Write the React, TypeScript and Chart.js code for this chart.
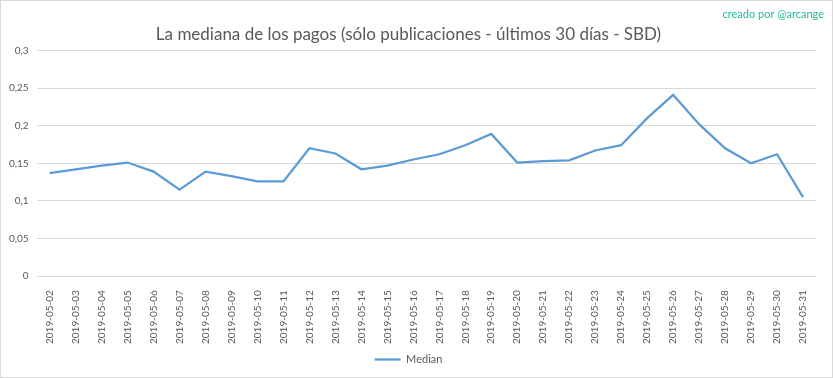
import React, { useEffect, useRef } from "react";
import { Chart, registerables } from "chart.js";

Chart.register(...registerables);

const dates: string[] = [
  "2019-05-02", "2019-05-03", "2019-05-04", "2019-05-05", "2019-05-06", "2019-05-07",
  "2019-05-08", "2019-05-09", "2019-05-10", "2019-05-11", "2019-05-12", "2019-05-13",
  "2019-05-14", "2019-05-15", "2019-05-16", "2019-05-17", "2019-05-18", "2019-05-19",
  "2019-05-20", "2019-05-21", "2019-05-22", "2019-05-23", "2019-05-24", "2019-05-25",
  "2019-05-26", "2019-05-27", "2019-05-28", "2019-05-29", "2019-05-30", "2019-05-31",
];

const medianValues: number[] = [
  0.137, 0.142, 0.147, 0.151, 0.139, 0.115,
  0.139, 0.133, 0.126, 0.126, 0.170, 0.163,
  0.142, 0.147, 0.155, 0.162, 0.174, 0.189,
  0.151, 0.153, 0.154, 0.167, 0.174, 0.210,
  0.241, 0.202, 0.170, 0.150, 0.162, 0.105,
];

const titleText = "La mediana de los pagos (sólo publicaciones - últimos 30 días - SBD)";
const creditText = "creado por @arcange";
const seriesName = "Median";

const FONT = "Lato, 'Open Sans', sans-serif";

const creditPlugin = {
  id: "credit",
  afterDraw(chart: any) {
    const ctx = chart.ctx;
    ctx.save();
    ctx.font = `11px ${FONT}`;
    ctx.fillStyle = "#1ABC9C";
    ctx.textAlign = "right";
    ctx.textBaseline = "middle";
    ctx.fillText(creditText, chart.width - 8, 13);
    ctx.restore();
  },
};

export default function App() {
  const ref = useRef<HTMLCanvasElement | null>(null);

  useEffect(() => {
    if (!ref.current) return;
    const chart = new Chart(ref.current, {
      type: "line",
      data: {
        labels: dates,
        datasets: [
          {
            label: seriesName,
            data: medianValues,
            borderColor: "#5B9BD5",
            backgroundColor: "#5B9BD5",
            borderWidth: 2.25,
            pointRadius: 0,
            tension: 0,
          },
        ],
      },
      options: {
        animation: false,
        responsive: false,
        maintainAspectRatio: false,
        layout: { padding: { left: 0, right: 16, top: 13, bottom: 2 } },
        plugins: {
          title: {
            display: true,
            text: titleText,
            color: "#595959",
            font: { family: FONT, size: 17, weight: "normal" },
            padding: { top: 10, bottom: 6 },
          },
          legend: {
            display: true,
            position: "bottom",
            labels: {
              color: "#595959",
              font: { family: FONT, size: 11 },
              usePointStyle: true,
              pointStyle: "line",
              pointStyleWidth: 26,
              boxHeight: 2,
              padding: 4,
            },
          },
          tooltip: { enabled: false },
        },
        scales: {
          x: {
            offset: true,
            grid: { display: false },
            border: { display: false },
            ticks: {
              color: "#595959",
              font: { family: FONT, size: 10 },
              minRotation: 90,
              maxRotation: 90,
              autoSkip: false,
              padding: 6,
            },
          },
          y: {
            min: 0,
            max: 0.3,
            grid: { color: "#D9D9D9", drawTicks: false },
            border: { display: false },
            ticks: {
              stepSize: 0.05,
              color: "#595959",
              font: { family: FONT, size: 10 },
              padding: 8,
              callback: (v: any) => Number(Number(v).toFixed(2)).toString().replace(".", ","),
            },
          },
        },
      },
      plugins: [creditPlugin],
    });
    return () => chart.destroy();
  }, []);

  return (
    <div
      style={{
        position: "fixed",
        left: 0,
        top: 0,
        width: 833,
        height: 378,
        boxSizing: "border-box",
        border: "1px solid #D9D9D9",
        background: "#fff",
      }}
    >
      <canvas ref={ref} width={831} height={376} style={{ display: "block" }} />
    </div>
  );
}
